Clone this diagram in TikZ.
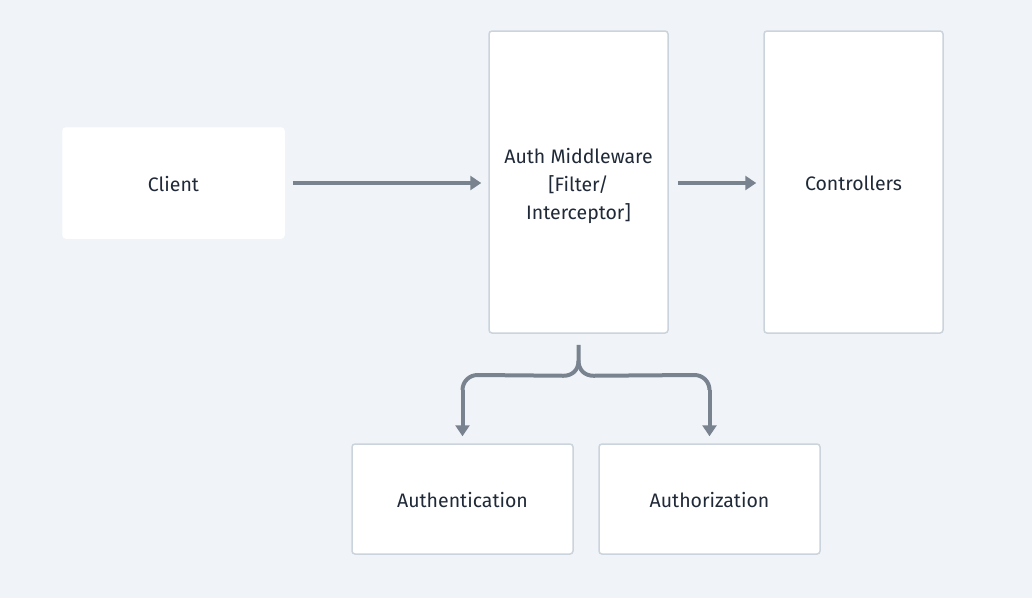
\documentclass[tikz,border=0pt]{standalone}
\usepackage{fontspec}
\setmainfont{Fira Sans}
\usetikzlibrary{arrows.meta}
\definecolor{bg}{HTML}{F0F4F8}
\definecolor{bordc}{HTML}{CBD3DC}
\definecolor{arrc}{HTML}{78838F}
\definecolor{txt}{HTML}{1F2937}
\newcommand{\lowerby}[2]{\raisebox{0pt}[\dimexpr\height+#1*2\relax]{#2}}
\begin{document}
\begin{tikzpicture}[x=1pt,y=-1pt,
  box/.style={draw=bordc,line width=1.5pt,fill=white,rounded corners=3pt,inner sep=0pt,
    text=txt,font=\fontsize{19.5}{28}\selectfont,align=center},
  plainbox/.style={box,draw=white},
  conn/.style={draw=arrc,line width=4pt,-{Triangle[length=11pt,width=14pt]}},
  braceline/.style={draw=arrc,line width=4pt}]
\fill[bg] (0,0) rectangle (1032,598);
\useasboundingbox (0,0) rectangle (1032,598);
\node[plainbox,minimum width=221pt,minimum height=110pt] (client) at (173.5,183) {\lowerby{1pt}{Client}};
\node[box,minimum width=179pt,minimum height=302pt] (auth) at (578.5,182) {\lowerby{4pt}{\begin{tabular}{@{}c@{}}Auth Middleware\\ {[}Filter/\\ Interceptor{]}\end{tabular}}};
\node[box,minimum width=179pt,minimum height=302pt] (ctrl) at (853.5,182) {\lowerby{1pt}{Controllers}};
\node[box,minimum width=221pt,minimum height=110pt] (authn) at (462.5,499) {\lowerby{1pt}{Authentication}};
\node[box,minimum width=221pt,minimum height=110pt] (authz) at (709.5,499) {\lowerby{1pt}{Authorization}};
\draw[conn] ([xshift=8pt]client.east |- 0,183) -- ([xshift=-7pt]auth.west |- 0,183);
\draw[conn] ([xshift=9pt]auth.east |- 0,183) -- ([xshift=-7pt]ctrl.west |- 0,183);
\coordinate (bt) at ([yshift=-11pt]auth.south);
\coordinate (lt) at ([yshift=7pt]authn.north);
\coordinate (rt) at ([yshift=7pt]authz.north);
\draw[braceline] (bt) -- ++(0,16) .. controls +(0,9) and +(9,0) .. ++(-15,15) -- ([xshift=15pt]lt |- 0,375) arc[start angle=90,end angle=180,radius=15pt];
\draw[braceline] (bt) ++(0,16) .. controls +(0,9) and +(-9,0) .. ++(15,15) -- ([xshift=-15pt]rt |- 0,375) arc[start angle=90,end angle=0,radius=15pt];
\draw[conn] ([yshift=-14.5pt]lt |- 0,375) -- (lt);
\draw[conn] ([yshift=-14.5pt]rt |- 0,375) -- (rt);
\end{tikzpicture}
\end{document}
